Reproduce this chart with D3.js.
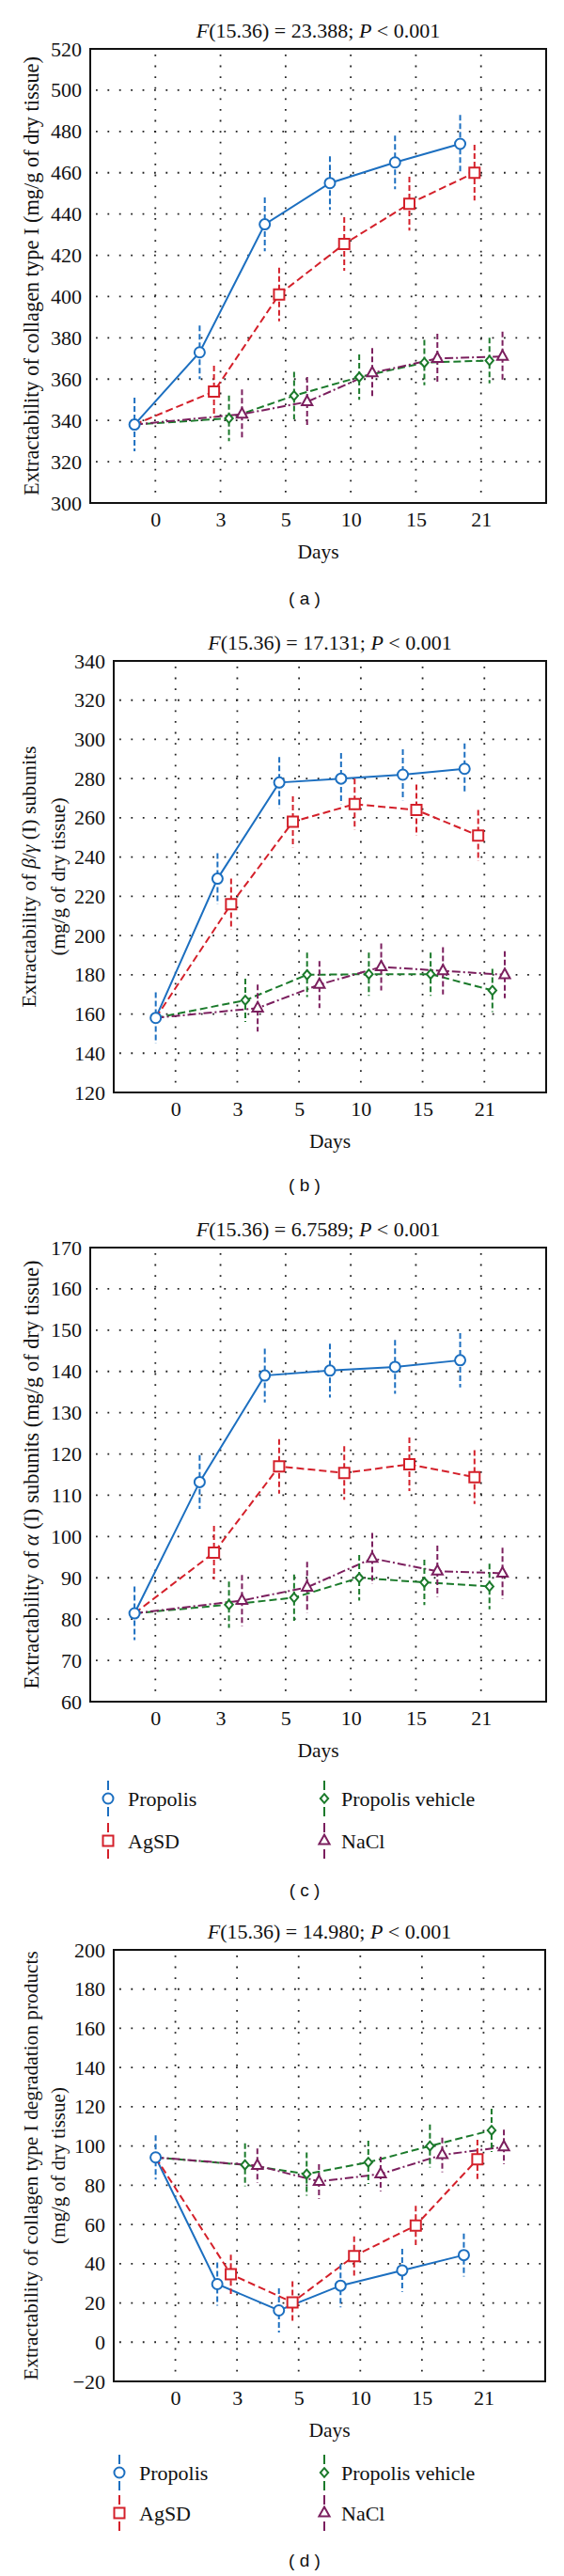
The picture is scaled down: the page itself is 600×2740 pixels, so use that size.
<!DOCTYPE html>
<html><head><meta charset="utf-8">
<script src="https://cdn.jsdelivr.net/npm/d3@7"></script>
<style>body{margin:0;background:#fff} svg{display:block}</style>
</head><body>
<svg id="chart" width="600" height="2740"></svg>
<script>
// ---------- DATA ----------
const days = ["0", "3", "5", "10", "15", "21"];
const seriesNames = ["Propolis", "AgSD", "Propolis vehicle", "NaCl"];

// Panel (a) collagen type I
const aTicks = [300, 320, 340, 360, 380, 400, 420, 440, 460, 480, 500, 520];
const aPropolis = [338, 373, 435, 455, 465, 474];
const aAgSD     = [338, 354, 401, 425.5, 445, 460];
const aVehicle  = [338, 341, 352, 361, 368, 369];
const aNaCl     = [338, 343, 349, 363, 370, 371];
const aPropolisErr = [13, 13, 13, 13, 13, 14];
const aAgSDErr     = [13, 12.5, 13, 13, 13, 13.5];
const aVehicleErr  = [11, 11, 11.5, 11, 11, 11];
const aNaClErr     = [12, 12, 12, 12, 12, 12];

// Panel (b) beta/gamma (I) subunits
const bTicks = [120, 140, 160, 180, 200, 220, 240, 260, 280, 300, 320, 340];
const bPropolis = [158, 229, 278, 280, 282, 285];
const bAgSD     = [158, 216, 258, 267, 264, 251];
const bVehicle  = [158, 167, 180, 180.3, 180.3, 172];
const bNaCl     = [158, 163, 175, 184, 182, 180];
const bPropolisErr = [13, 13, 13, 13, 13, 13];
const bAgSDErr     = [13, 13, 13, 13, 13, 13];
const bVehicleErr  = [11, 11, 11.3, 11, 11, 11];
const bNaClErr     = [12, 12, 12, 12, 12, 12];

// Panel (c) alpha (I) subunits
const cTicks = [60, 70, 80, 90, 100, 110, 120, 130, 140, 150, 160, 170];
const cPropolis = [81.4, 113.2, 139, 140.2, 141.1, 142.7];
const cAgSD     = [81.4, 96.1, 117, 115.4, 117.5, 114.4];
const cVehicle  = [81.4, 83.5, 85.2, 90, 88.9, 87.9];
const cNaCl     = [81.4, 84.5, 87.7, 94.7, 91.6, 91.1];
const cPropolisErr = [6.5, 6.5, 6.5, 6.5, 6.5, 6.6];
const cAgSDErr     = [6.5, 6.5, 6.6, 6.5, 6.5, 6.5];
const cVehicleErr  = [5.6, 5.6, 5.6, 5.5, 5.5, 5.5];
const cNaClErr     = [6.2, 6.2, 6.2, 6.2, 6.2, 6.2];

// Panel (d) collagen type I degradation products
const dTicks = [-20, 0, 20, 40, 60, 80, 100, 120, 140, 160, 180, 200];
const dPropolis = [94.2, 29.6, 16.2, 28.8, 36.6, 44.4];
const dAgSD     = [94.2, 34.6, 20.3, 43.9, 59.5, 93.2];
const dVehicle  = [94.2, 90.4, 85.7, 91.7, 100, 108];
const dNaCl     = [94.2, 90, 81.9, 85.7, 95.5, 99.5];
const dPropolisErr = [11.3, 11, 11.3, 11, 11, 11];
const dAgSDErr     = [10, 10, 10.7, 10, 10, 10];
const dVehicleErr  = [11, 11, 11, 11, 11, 11];
const dNaClErr     = [8.8, 8.8, 8.8, 8.8, 8.8, 8.8];

const fValues = ["23.388", "17.131", "6.7589", "14.980"];
const panelLetters = ["a", "b", "c", "d"];

// ---------- STYLE ----------
const colors = ["#1c6fc0", "#d4202a", "#1b7a2b", "#7b1f5e"];
const lineDash = [null, "8,4", "8,4", "9,3,2,3"];
const offsets = [-0.32, -0.1, 0.13, 0.33];
const serif = "'Liberation Serif','DejaVu Serif',serif";
const sans = "'Liberation Sans','DejaVu Sans',sans-serif";

const svg = d3.select("#chart");

function markerPath(k) {
  const p = d3.path();
  if (k === 0) { p.arc(0, 0, 5.5, 0, 2 * Math.PI); p.closePath(); }
  else if (k === 1) { p.rect(-5.5, -5.5, 11, 11); }
  else if (k === 2) { p.moveTo(0, -4.8); p.lineTo(4.2, 0); p.lineTo(0, 4.8); p.lineTo(-4.2, 0); p.closePath(); }
  else { p.moveTo(0, -6.5); p.lineTo(5.6, 3.6); p.lineTo(-5.6, 3.6); p.closePath(); }
  return p.toString();
}

function fitText(sel, target) {
  const len = sel.node().getComputedTextLength();
  const fs = parseFloat(sel.attr("font-size"));
  sel.attr("font-size", (fs * target / len).toFixed(2));
}

function drawPanel(cfg) {
  const g = svg.append("g");
  const x = d3.scaleLinear().domain([-1, 6]).range([cfg.left, cfg.right]);
  const y = d3.scaleLinear().domain([cfg.ticks[0], cfg.ticks[cfg.ticks.length - 1]]).range([cfg.bottom, cfg.top]);
  const idx = days.map((d, i) => i);

  // grid
  g.append("g").selectAll("line").data(cfg.ticks.slice(1, -1)).join("line")
    .attr("x1", cfg.left + 6).attr("x2", cfg.right - 2)
    .attr("y1", d => y(d)).attr("y2", d => y(d))
    .attr("stroke", "#222").attr("stroke-width", 1.8).attr("stroke-dasharray", "1.8,10.6");
  g.append("g").selectAll("line").data(idx).join("line")
    .attr("x1", d => x(d)).attr("x2", d => x(d))
    .attr("y1", cfg.top + 6).attr("y2", cfg.bottom - 2)
    .attr("stroke", "#222").attr("stroke-width", 1.8).attr("stroke-dasharray", "1.8,9.8");

  // axes (labels only)
  const ya = g.append("g").attr("transform", `translate(${cfg.left},0)`)
    .call(d3.axisLeft(y).tickValues(cfg.ticks).tickSize(0).tickPadding(9)
      .tickFormat(v => v < 0 ? "\u2212" + Math.abs(v) : String(v)));
  const xa = g.append("g").attr("transform", `translate(0,${cfg.bottom})`)
    .call(d3.axisBottom(x).tickValues(idx).tickSize(0).tickPadding(9).tickFormat(i => days[i]));
  [ya, xa].forEach(a => {
    a.select(".domain").remove();
    a.attr("font-family", serif).attr("font-size", 22);
    a.selectAll("text").attr("font-family", serif).attr("font-size", 22).attr("fill", "#111");
  });

  // series
  const xp = (s, i) => x(i + (i === 0 ? offsets[0] : offsets[s]));
  cfg.series.forEach((vals, s) => {
    const line = d3.line().x((v, i) => xp(s, i)).y(v => y(v));
    g.append("path").attr("d", line(vals)).attr("fill", "none")
      .attr("stroke", colors[s]).attr("stroke-width", 2)
      .attr("stroke-dasharray", lineDash[s]);
  });
  cfg.series.forEach((vals, s) => {
    const pts = vals.map((v, i) => ({v, i, e: cfg.errors[s][i]})).filter(p => p.i > 0 || s === 0);
    g.append("g").selectAll("line").data(pts).join("line")
      .attr("x1", p => xp(s, p.i)).attr("x2", p => xp(s, p.i))
      .attr("y1", p => y(p.v + p.e)).attr("y2", p => y(p.v - p.e))
      .attr("stroke", colors[s]).attr("stroke-width", 2).attr("stroke-dasharray", "6,3");
    g.append("g").selectAll("path").data(pts).join("path")
      .attr("d", markerPath(s))
      .attr("transform", p => `translate(${xp(s, p.i)},${y(p.v)})`)
      .attr("fill", "#fff").attr("stroke", colors[s]).attr("stroke-width", 2);
  });

  // frame
  g.append("rect").attr("x", cfg.left).attr("y", cfg.top)
    .attr("width", cfg.right - cfg.left).attr("height", cfg.bottom - cfg.top)
    .attr("fill", "none").attr("stroke", "#111").attr("stroke-width", 2);

  // title
  const cx = (cfg.left + cfg.right) / 2;
  const t = g.append("text").attr("x", cx).attr("y", cfg.top - 12)
    .attr("text-anchor", "middle").attr("font-family", serif).attr("font-size", 22).attr("fill", "#111");
  t.append("tspan").attr("font-style", "italic").text("F");
  t.append("tspan").text(`(15.36) = ${cfg.f}; `);
  t.append("tspan").attr("font-style", "italic").text("P");
  t.append("tspan").text(" < 0.001");

  // Days
  g.append("text").attr("x", cx).attr("y", cfg.bottom + 59)
    .attr("text-anchor", "middle").attr("font-family", serif).attr("font-size", 21.5).attr("fill", "#111")
    .text("Days");

  // y label
  const cy = (cfg.top + cfg.bottom) / 2;
  cfg.ylabel.forEach((parts, li) => {
    const tx = g.append("text")
      .attr("transform", `translate(${cfg.ylabelX[li]},${cy}) rotate(-90)`)
      .attr("text-anchor", "middle").attr("dominant-baseline", "central")
      .attr("font-family", serif).attr("font-size", 20).attr("fill", "#111");
    parts.forEach(p => {
      const ts = tx.append("tspan").text(p.t);
      if (p.i) ts.attr("font-style", "italic");
    });
    fitText(tx, cfg.ylabelLen[li]);
  });

  // legend
  if (cfg.legend) {
    const L = cfg.legend;
    seriesNames.forEach((name, s) => {
      const col = (s === 0 || s === 1) ? 0 : 1;
      const row = (s === 0 || s === 2) ? 0 : 1;
      const mx = L.mx[col], tx = L.tx[col], ry = L.rows[row];
      const lg = g.append("g");
      lg.append("line").attr("x1", mx).attr("x2", mx).attr("y1", ry - 19).attr("y2", ry - 9)
        .attr("stroke", colors[s]).attr("stroke-width", 2);
      lg.append("line").attr("x1", mx).attr("x2", mx).attr("y1", ry + 9).attr("y2", ry + 19)
        .attr("stroke", colors[s]).attr("stroke-width", 2);
      lg.append("path").attr("d", markerPath(s)).attr("transform", `translate(${mx},${ry})`)
        .attr("fill", "#fff").attr("stroke", colors[s]).attr("stroke-width", 2);
      lg.append("text").attr("x", tx).attr("y", ry).attr("dominant-baseline", "central")
        .attr("font-family", serif).attr("font-size", 22).attr("fill", "#111").text(name);
    });
  }

  // panel letter
  g.append("text").attr("x", 324).attr("y", cfg.letterY).attr("text-anchor", "middle")
    .attr("dominant-baseline", "central").attr("font-family", sans).attr("font-size", 19)
    .attr("fill", "#111").text(`( ${cfg.letter} )`);
}

const ylabMass = "(mg/g of dry tissue)";
drawPanel({
  left: 96, right: 581, top: 52, bottom: 535, ticks: aTicks, f: fValues[0], letter: panelLetters[0],
  series: [aPropolis, aAgSD, aVehicle, aNaCl],
  errors: [aPropolisErr, aAgSDErr, aVehicleErr, aNaClErr],
  ylabel: [[{t: "Extractability of collagen type I " + ylabMass}]], ylabelX: [33], ylabelLen: [467],
  letterY: 636
});
drawPanel({
  left: 121, right: 581, top: 703, bottom: 1162, ticks: bTicks, f: fValues[1], letter: panelLetters[1],
  series: [bPropolis, bAgSD, bVehicle, bNaCl],
  errors: [bPropolisErr, bAgSDErr, bVehicleErr, bNaClErr],
  ylabel: [[{t: "Extractability of "}, {t: "\u03B2", i: true}, {t: "/"}, {t: "\u03B3", i: true}, {t: " (I) subunits"}], [{t: ylabMass}]],
  ylabelX: [31, 61.5], ylabelLen: [278, 168],
  letterY: 1260
});
drawPanel({
  left: 96, right: 581, top: 1327, bottom: 1810, ticks: cTicks, f: fValues[2], letter: panelLetters[2],
  series: [cPropolis, cAgSD, cVehicle, cNaCl],
  errors: [cPropolisErr, cAgSDErr, cVehicleErr, cNaClErr],
  ylabel: [[{t: "Extractability of "}, {t: "\u03B1", i: true}, {t: " (I) subunits " + ylabMass}]], ylabelX: [33], ylabelLen: [456],
  legend: {mx: [115, 345], tx: [136, 363], rows: [1913, 1958]},
  letterY: 2010
});
drawPanel({
  left: 121, right: 580, top: 2074, bottom: 2533, ticks: dTicks, f: fValues[3], letter: panelLetters[3],
  series: [dPropolis, dAgSD, dVehicle, dNaCl],
  errors: [dPropolisErr, dAgSDErr, dVehicleErr, dNaClErr],
  ylabel: [[{t: "Extractability of collagen type I degradation products"}], [{t: ylabMass}]],
  ylabelX: [33, 61.5], ylabelLen: [457, 167],
  legend: {mx: [127, 345], tx: [148, 363], rows: [2630, 2673]},
  letterY: 2723
});
</script>
</body></html>
